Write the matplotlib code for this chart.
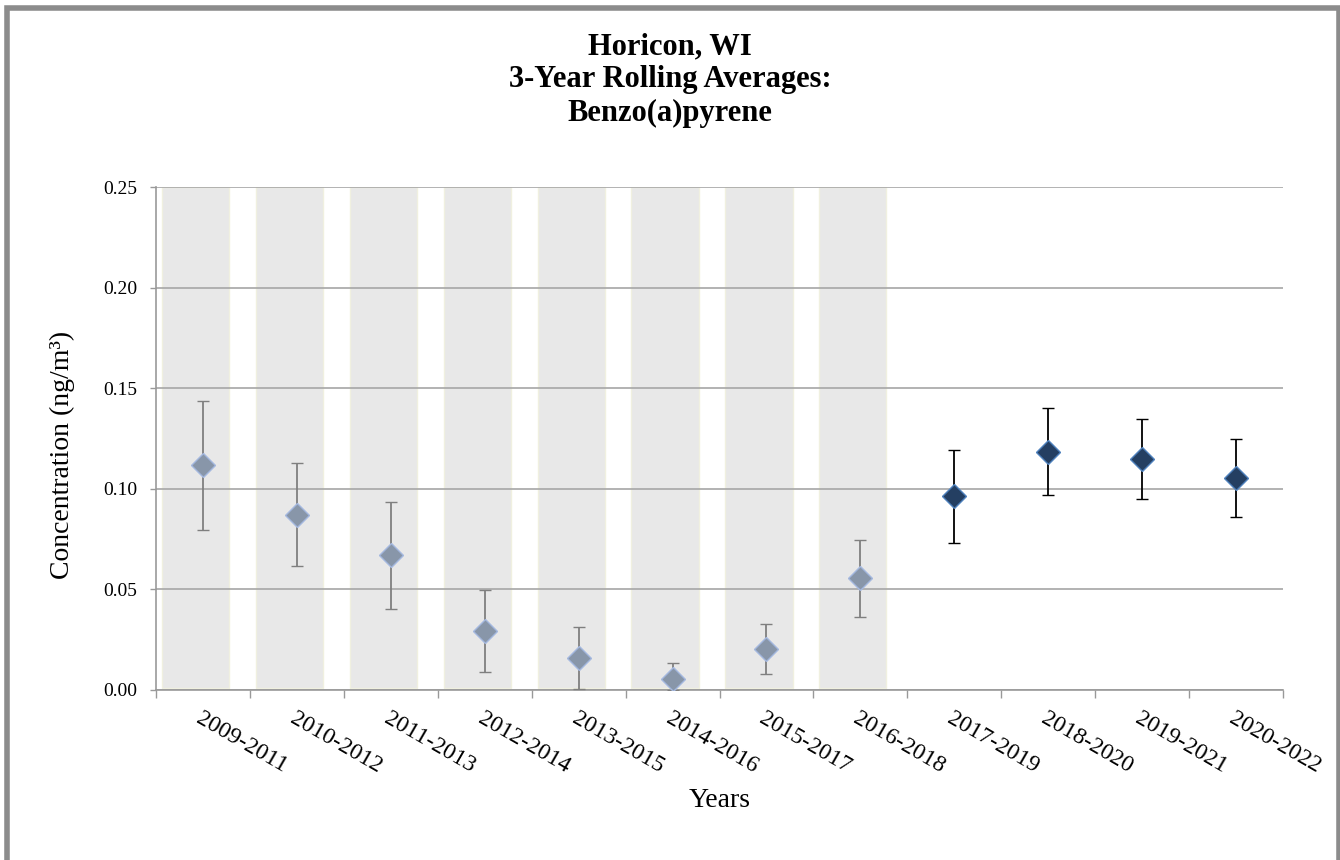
import numpy as np
import matplotlib
matplotlib.use("Agg")
from matplotlib import pyplot as plt
from matplotlib.patches import Rectangle

plt.rcParams['font.family'] = ['Liberation Serif', 'DejaVu Serif']

# data
periods = ['2009-2011', '2010-2012', '2011-2013', '2012-2014', '2013-2015', '2014-2016',
           '2015-2017', '2016-2018', '2017-2019', '2018-2020', '2019-2021', '2020-2022']
means = [0.1117, 0.0871, 0.0671, 0.0293, 0.0161, 0.0056,
         0.0205, 0.0558, 0.0964, 0.1184, 0.1148, 0.1054]
lower = [0.0797, 0.0615, 0.0404, 0.0089, 0.0003, 0.0,
         0.0080, 0.0364, 0.0731, 0.0968, 0.0949, 0.0860]
upper = [0.1435, 0.1128, 0.0934, 0.0497, 0.0315, 0.0134,
         0.0330, 0.0746, 0.1194, 0.1400, 0.1345, 0.1249]
shaded = [0.249] * 8   # grey background columns for the earlier periods
n_old = len(shaded)

fig = plt.figure(figsize=(13.4, 8.6), dpi=100)
ax = fig.add_axes([156/1340, 1-690/860, 1127/1340, 503/860])

x = np.arange(len(periods))
means = np.array(means)
err = np.array([means - np.array(lower), np.array(upper) - means])

# shaded columns
ax.bar(x[:n_old] - 0.08, shaded, width=0.715, bottom=0.001,
       color='#e8e8e8', edgecolor='#f0f0e0', linewidth=1, zorder=1)

# grid
ax.set_ylim(0, 0.25)
ax.set_xlim(-0.5, len(periods) - 0.5)
ax.set_yticks(np.arange(0, 0.2501, 0.05))
ax.yaxis.grid(True, color='#a6a6a6', linewidth=1.2, zorder=2)
ax.set_axisbelow(False)

# older periods: grey diamonds
ax.errorbar(x[:n_old], means[:n_old], yerr=err[:, :n_old], fmt='D', ms=12,
            mfc='#8896a9', mec='#a4b8df', mew=1, ecolor='#7f7f7f',
            elinewidth=1.3, capsize=4.5, capthick=1.3, zorder=4)
# recent periods: dark navy diamonds
ax.errorbar(x[n_old:], means[n_old:], yerr=err[:, n_old:], fmt='D', ms=12,
            mfc='#243f62', mec='#4f81bd', mew=1, ecolor='black',
            elinewidth=1.3, capsize=4.5, capthick=1.3, zorder=4)

for s in ['top', 'right']:
    ax.spines[s].set_visible(False)
for s in ['left', 'bottom']:
    ax.spines[s].set_color('#999999')
    ax.spines[s].set_linewidth(1.2)
    ax.spines[s].set_zorder(3)

ax.yaxis.set_major_formatter(matplotlib.ticker.FormatStrFormatter('%.2f'))
ax.tick_params(axis='y', length=4.5, width=1, color='#999999', pad=9, labelsize=14)

ax.set_xticks(x)
ax.set_xticklabels(periods, rotation=-30, ha='left', va='top',
                   rotation_mode='anchor', fontsize=17)
ax.set_xticks(np.arange(-0.5, len(periods)), minor=True)
ax.tick_params(axis='x', which='major', length=0, pad=13)
ax.tick_params(axis='x', which='minor', length=6, width=1, color='#999999')

ax.set_xlabel('Years', fontsize=20)
ax.xaxis.set_label_coords(0.5, -0.195)
ax.set_ylabel('Concentration (ng/m³)', fontsize=20)
ax.yaxis.set_label_coords(-0.072, 0.467)

fig.text(0.5, 1 - 32/860, 'Horicon, WI\n3-Year Rolling Averages:\nBenzo(a)pyrene',
         ha='center', va='top', fontsize=22, fontweight='bold', linespacing=1.2)

# outer chart border
fig.patches.append(Rectangle((7/1340, -0.05), 1332/1340, 1.05 - 8/860,
                             transform=fig.transFigure, fill=False,
                             edgecolor='#8c8c8c', linewidth=4, clip_on=False))

fig.savefig('out.png', dpi=100)
